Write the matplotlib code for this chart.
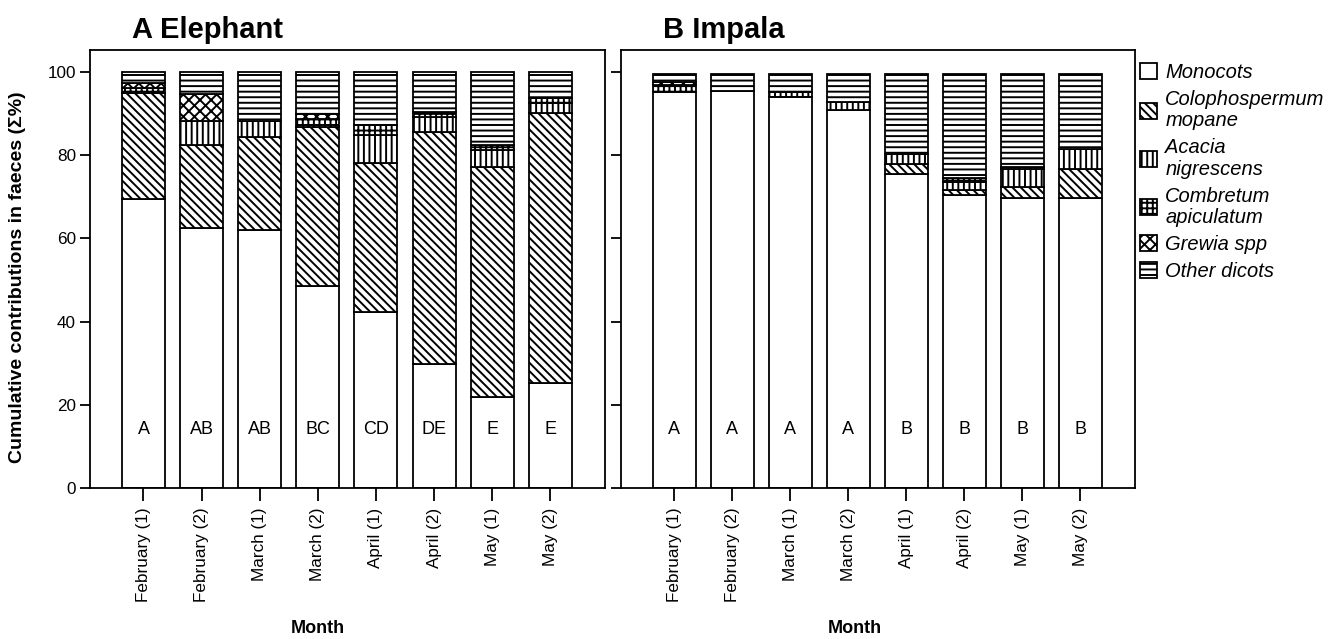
import matplotlib
matplotlib.use("Agg")
import matplotlib.pyplot as plt
from matplotlib.patches import Patch
import numpy as np

plt.rcParams['font.family'] = ['Liberation Sans', 'DejaVu Sans']
plt.rcParams['hatch.linewidth'] = 1.4

months = ["February (1)", "February (2)", "March (1)", "March (2)",
          "April (1)", "April (2)", "May (1)", "May (2)"]
categories = ["Monocots", "Colophospermum\nmopane", "Acacia\nnigrescens",
              "Combretum\napiculatum", "Grewia spp", "Other dicots"]

# Elephant
ele_monocots = [69.5, 62.5, 62.0, 48.6, 42.4, 29.8, 21.9, 25.2]
ele_mopane = [25.5, 20.0, 22.4, 38.2, 35.7, 55.8, 55.3, 64.9]
ele_acacia = [0.0, 5.7, 3.8, 0.0, 6.8, 3.6, 4.0, 2.4]
ele_combretum = [1.2, 0.0, 0.0, 2.0, 2.4, 1.2, 1.3, 1.3]
ele_grewia = [1.2, 6.5, 0.0, 1.0, 0.0, 0.0, 0.0, 0.0]
ele_other = [2.6, 5.3, 11.8, 10.2, 12.7, 9.6, 17.5, 6.2]
ele_letters = ["A", "AB", "AB", "BC", "CD", "DE", "E", "E"]

# Impala
imp_monocots = [95.3, 95.5, 94.0, 90.9, 75.6, 70.4, 69.7, 69.7]
imp_mopane = [0.0, 0.0, 0.0, 0.0, 2.3, 1.2, 2.7, 7.0]
imp_acacia = [0.0, 0.0, 0.0, 1.9, 2.4, 2.0, 4.3, 4.8]
imp_combretum = [1.7, 0.0, 1.2, 0.0, 0.0, 0.9, 0.5, 0.0]
imp_grewia = [0.5, 0.0, 0.0, 0.0, 0.0, 0.0, 0.0, 0.0]
imp_other = [2.0, 4.0, 4.3, 6.7, 19.2, 25.0, 22.3, 18.0]
imp_letters = ["A", "A", "A", "A", "B", "B", "B", "B"]

hatches = [None, '\\\\\\\\', '|||', '+++', 'xxx', '---']

fig = plt.figure(figsize=(13.42, 6.39), dpi=100)
W, H = 1342, 639
ax1 = fig.add_axes([90 / W, 1 - 488 / H, (605 - 90) / W, (488 - 50) / H])
ax2 = fig.add_axes([621 / W, 1 - 488 / H, (1135 - 621) / W, (488 - 50) / H])


def draw(ax, series, letters, title, show_labels):
    x = np.arange(len(months))
    bottom = np.zeros(len(months))
    for vals, h in zip(series, hatches):
        vals = np.array(vals)
        ax.bar(x, vals, width=0.74, bottom=bottom, facecolor='white',
               edgecolor='black', linewidth=1.3, hatch=h)
        bottom += vals
    for xi, t in zip(x, letters):
        ax.text(xi, 14, t, ha='center', va='center', fontsize=13)
    ax.set_xlim(-0.92, 7.94)
    ax.set_ylim(0, 105.3)
    ax.set_xticks(x)
    ax.set_xticklabels(months, rotation=90, fontsize=12.3)
    ax.set_yticks([0, 20, 40, 60, 80, 100])
    if show_labels:
        ax.set_yticklabels(["0", "20", "40", "60", "80", "100"], fontsize=12.3)
    else:
        ax.set_yticklabels([])
    ax.tick_params(axis='y', direction='out', length=7, width=1.3, pad=3)
    ax.tick_params(axis='x', direction='out', length=9, width=1.3, pad=5)
    for s in ax.spines.values():
        s.set_linewidth(1.3)
    ax.set_xlabel("Month", fontsize=13, fontweight='bold')
    ax.text(0.082, 1.046, title, transform=ax.transAxes, ha='left',
            va='center', fontsize=21, fontweight='bold')


draw(ax1, [ele_monocots, ele_mopane, ele_acacia, ele_combretum, ele_grewia, ele_other],
     ele_letters, "A Elephant", True)
draw(ax2, [imp_monocots, imp_mopane, imp_acacia, imp_combretum, imp_grewia, imp_other],
     imp_letters, "B Impala", False)

ax1.xaxis.set_label_coords(0.443, -0.302)
ax2.xaxis.set_label_coords(0.455, -0.302)

fig.text(18 / W, 1 - 277 / H, "Cumulative contributions in faeces (\u03a3%)",
         rotation=90, ha='center', va='center', fontsize=14, fontweight='bold')

handles = [Patch(facecolor='white', edgecolor='black', linewidth=1.3, hatch=h)
           for h in hatches]
leg = fig.legend(handles, categories, loc='upper left',
                 bbox_to_anchor=(1140 / W, 1 - 63 / H), frameon=False,
                 prop={'style': 'italic', 'size': 14.5},
                 handlelength=0.85, handleheight=0.85, handletextpad=0.4,
                 labelspacing=0.4, borderpad=0, borderaxespad=0)
for t in leg.get_texts():
    t.set_linespacing(1.15)

fig.savefig("out.png", dpi=100)
